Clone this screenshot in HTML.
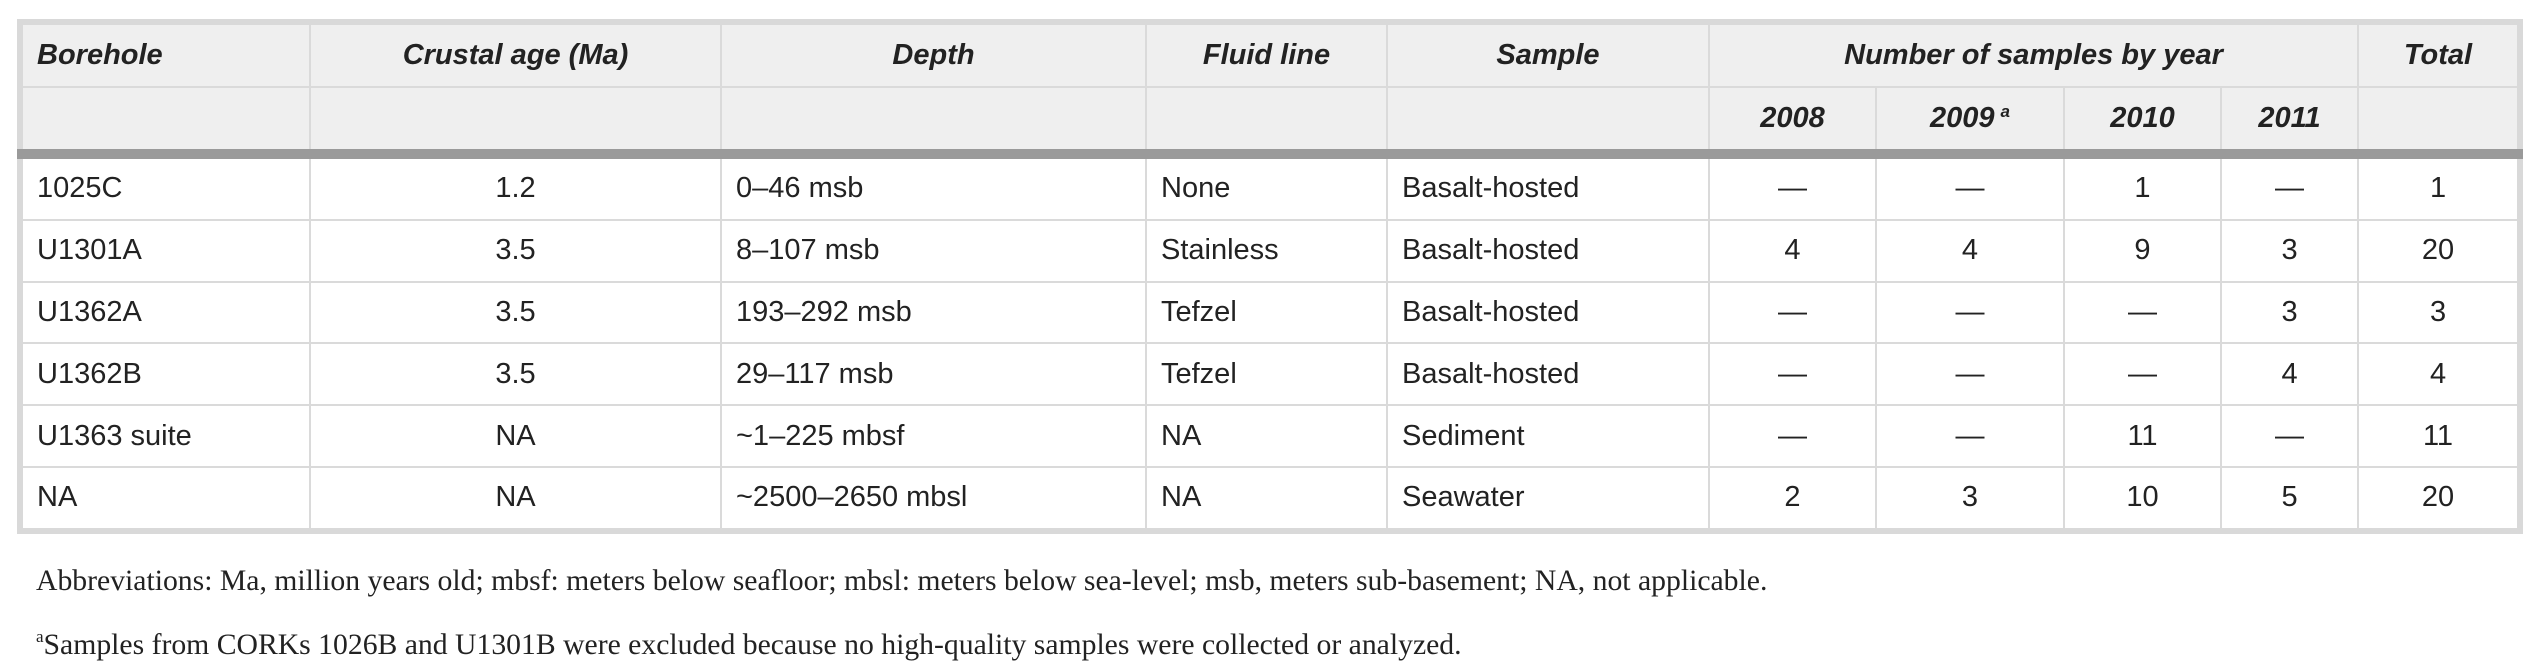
<!DOCTYPE html>
<html><head><meta charset="utf-8">
<style>
html,body{margin:0;padding:0;background:#fff;width:2526px;height:672px;overflow:hidden}
table{position:absolute;left:17px;top:19px;border-collapse:collapse;table-layout:fixed;width:2500px;border:6px solid #d9d9d9;font-family:"Liberation Sans",sans-serif;color:#222;font-size:29px}
th,td{border:2px solid #dadada;padding:0 14px;overflow:hidden;white-space:nowrap}
th{background:#efefef;font-weight:bold;font-style:italic;height:61px;text-align:center;color:#222}
td{height:59.8px;background:#fff}
tbody tr:first-child td{border-top:10px solid #9a9a9a}
.l{text-align:left}.c{text-align:center}
sup{font-size:17px;vertical-align:10px;margin-left:6px}
.foot{position:absolute;left:36px;font-family:"Liberation Serif",serif;font-size:29.7px;color:#222}
.foot sup{font-size:17px;margin:0;vertical-align:12px}
</style></head><body>
<table>
<colgroup><col style="width:290px"><col style="width:411px"><col style="width:425px"><col style="width:241px"><col style="width:322px"><col style="width:167px"><col style="width:188px"><col style="width:157px"><col style="width:137px"><col style="width:162px"></colgroup>
<thead>
<tr>
<th class="l">Borehole</th>
<th>Crustal age (Ma)</th>
<th>Depth</th>
<th>Fluid line</th>
<th>Sample</th>
<th colspan="4">Number of samples by year</th>
<th>Total</th>
</tr>
<tr>
<th></th><th></th><th></th><th></th><th></th>
<th>2008</th>
<th>2009<sup>a</sup></th>
<th>2010</th>
<th>2011</th>
<th></th>
</tr>
</thead>
<tbody>
<tr><td>1025C</td><td class="c">1.2</td><td>0–46 msb</td><td>None</td><td>Basalt-hosted</td><td class="c">—</td><td class="c">—</td><td class="c">1</td><td class="c">—</td><td class="c">1</td></tr>
<tr><td>U1301A</td><td class="c">3.5</td><td>8–107 msb</td><td>Stainless</td><td>Basalt-hosted</td><td class="c">4</td><td class="c">4</td><td class="c">9</td><td class="c">3</td><td class="c">20</td></tr>
<tr><td>U1362A</td><td class="c">3.5</td><td>193–292 msb</td><td>Tefzel</td><td>Basalt-hosted</td><td class="c">—</td><td class="c">—</td><td class="c">—</td><td class="c">3</td><td class="c">3</td></tr>
<tr><td>U1362B</td><td class="c">3.5</td><td>29–117 msb</td><td>Tefzel</td><td>Basalt-hosted</td><td class="c">—</td><td class="c">—</td><td class="c">—</td><td class="c">4</td><td class="c">4</td></tr>
<tr><td>U1363 suite</td><td class="c">NA</td><td>~1–225 mbsf</td><td>NA</td><td>Sediment</td><td class="c">—</td><td class="c">—</td><td class="c">11</td><td class="c">—</td><td class="c">11</td></tr>
<tr><td>NA</td><td class="c">NA</td><td>~2500–2650 mbsl</td><td>NA</td><td>Seawater</td><td class="c">2</td><td class="c">3</td><td class="c">10</td><td class="c">5</td><td class="c">20</td></tr>
</tbody>
</table>
<div class="foot" style="top:565px">Abbreviations: Ma, million years old; mbsf: meters below seafloor; mbsl: meters below sea-level; msb, meters sub-basement; NA, not applicable.</div>
<div class="foot" style="top:627px"><sup>a</sup>Samples from CORKs 1026B and U1301B were excluded because no high-quality samples were collected or analyzed.</div>
</body></html>
